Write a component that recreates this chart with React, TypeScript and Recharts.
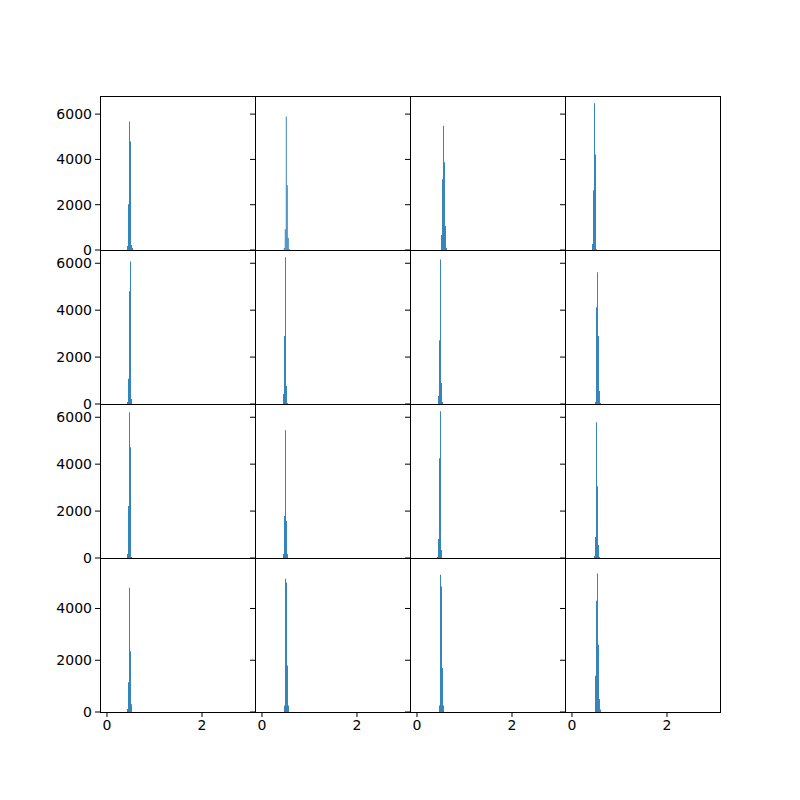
import { Bar, BarChart, XAxis, YAxis } from "recharts";

// shared x axis, y shared within each row
const xTicks = [0, 2];
const yTicks = [0, 2000, 4000, 6000];
const xDomain: [number, number] = [-0.147, 3.116];
const rowYMax = [6800, 6565, 6565, 5950];

// histogram bins per panel (row by row, left to right)
const centers: number[][] = [
  [0.432, 0.453, 0.474, 0.495, 0.516, 0.537],
  [0.47, 0.491, 0.512, 0.533, 0.554, 0.575],
  [0.516, 0.537, 0.558, 0.579, 0.6, 0.621],
  [0.432, 0.453, 0.474, 0.495, 0.516],
  [0.432, 0.453, 0.474, 0.495, 0.516],
  [0.453, 0.474, 0.495, 0.516, 0.537],
  [0.453, 0.474, 0.495, 0.516, 0.537],
  [0.495, 0.516, 0.537, 0.558, 0.579, 0.6],
  [0.432, 0.453, 0.474, 0.495, 0.516],
  [0.453, 0.474, 0.495, 0.516, 0.537],
  [0.432, 0.453, 0.474, 0.495, 0.516],
  [0.474, 0.495, 0.516, 0.537, 0.558, 0.579],
  [0.432, 0.453, 0.474, 0.495, 0.516],
  [0.474, 0.495, 0.516, 0.537, 0.558],
  [0.474, 0.495, 0.516, 0.537, 0.558],
  [0.495, 0.516, 0.537, 0.558, 0.579, 0.6],
];

const counts: number[][] = [
  [175, 2020, 5670, 4790, 220, 90],
  [90, 920, 5890, 2860, 530, 45],
  [660, 3120, 5490, 3870, 1055, 90],
  [260, 2640, 6480, 4220, 30],
  [87, 1075, 4810, 6080, 213],
  [426, 2895, 6255, 765, 44],
  [339, 2720, 6165, 890, 87],
  [87, 4125, 5615, 2895, 552, 44],
  [169, 2212, 6215, 4724, 44],
  [169, 1791, 5445, 1573, 169],
  [44, 808, 4254, 6253, 339],
  [87, 890, 5789, 3059, 552, 44],
  [120, 1150, 4800, 2350, 300],
  [250, 5150, 5000, 1800, 250],
  [250, 5300, 4850, 1700, 250],
  [1400, 4300, 5350, 2600, 500, 100],
];

const BLUE = "#1f77b4";
const PLOT_W = 155;
const PLOT_H = 154;
const LEFT = 100;
const TOP = 96;
const M_LEFT = 60;
const M_TOP = 10;
const M_RIGHT = 10;
const M_BOTTOM = 30;
const FONT = "DejaVu Sans, sans-serif";

function Panel({ idx }: { idx: number }) {
  const row = Math.floor(idx / 4);
  const col = idx % 4;
  const data = centers[idx].map((x, i) => ({ x, count: counts[idx][i] }));
  const tickStyle = { fill: "#000", fontSize: 14, fontFamily: FONT };
  const yMax = rowYMax[row];
  const bottomRow = row === 3;

  return (
    <div
      style={{
        position: "absolute",
        left: LEFT + col * PLOT_W - M_LEFT,
        top: TOP + row * PLOT_H - M_TOP,
      }}
    >
      <BarChart
        width={PLOT_W + M_LEFT + M_RIGHT}
        height={PLOT_H + M_TOP + M_BOTTOM}
        data={data}
        margin={{ top: M_TOP, right: M_RIGHT, left: 0, bottom: 0 }}
        barCategoryGap={0}
        barGap={0}
      >
        <XAxis
          dataKey="x"
          type="number"
          domain={xDomain}
          ticks={xTicks}
          allowDataOverflow
          interval={0}
          height={M_BOTTOM}
          axisLine={false}
          tickLine={bottomRow ? { stroke: "#000", strokeWidth: 1 } : false}
          tickSize={5}
          tickMargin={3}
          tick={tickStyle}
          tickFormatter={(v: number) => (bottomRow ? String(v) : "")}
        />
        <YAxis
          type="number"
          domain={[0, yMax]}
          ticks={yTicks.filter((t) => t <= yMax)}
          allowDataOverflow
          interval={0}
          width={M_LEFT}
          axisLine={false}
          tickLine={{ stroke: "#000", strokeWidth: 1 }}
          tickSize={5}
          tickMargin={3}
          tick={tickStyle}
          tickFormatter={(v: number) => (col === 0 ? String(v) : "")}
        />
        <Bar dataKey="count" fill={BLUE} barSize={1} isAnimationActive={false} />
      </BarChart>
      <div
        style={{
          position: "absolute",
          left: M_LEFT,
          top: M_TOP,
          width: PLOT_W + 1,
          height: PLOT_H + 1,
          border: "1px solid #000",
          boxSizing: "border-box",
          pointerEvents: "none",
        }}
      />
    </div>
  );
}

export default function App() {
  return (
    <div
      style={{
        position: "absolute",
        left: 0,
        top: 0,
        width: 800,
        height: 800,
        background: "#fff",
      }}
    >
      {counts.map((_, i) => (
        <Panel key={i} idx={i} />
      ))}
    </div>
  );
}
